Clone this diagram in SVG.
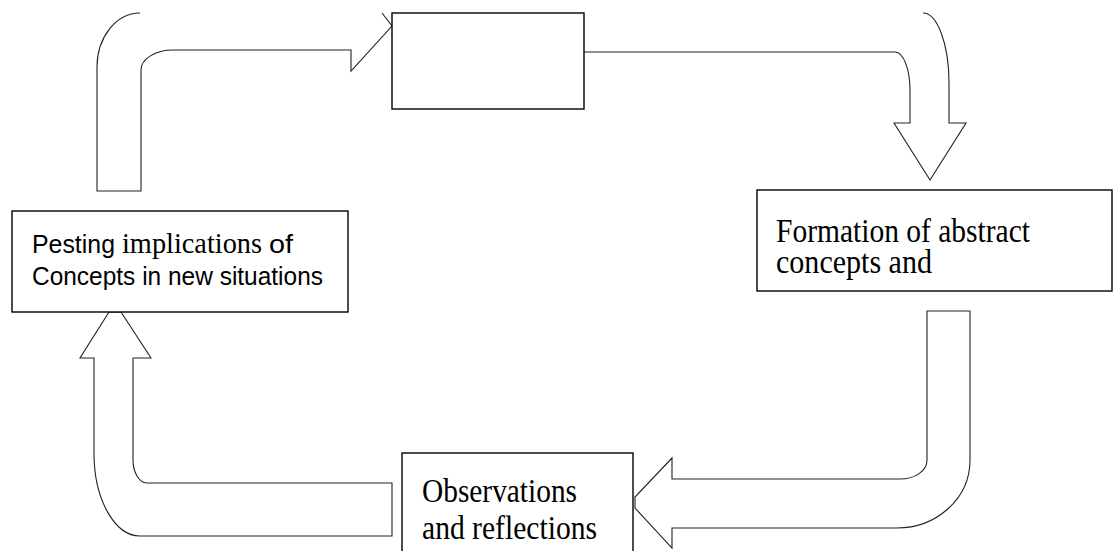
<svg xmlns="http://www.w3.org/2000/svg" width="1113" height="551" viewBox="0 0 1113 551">
<style>
.box{fill:#fff;stroke:#000;stroke-width:1.4}
.arrow{fill:#fff;stroke:#222;stroke-width:1.1;stroke-linejoin:miter}
.open{fill:none;stroke:#222;stroke-width:1.1}
.serif{font-family:"Liberation Serif","Times New Roman",serif;fill:#000}
.sans{font-family:"Liberation Sans",Arial,sans-serif;fill:#000}
</style>
<rect width="1113" height="551" fill="#fff"/>
<g id="connectors">
  <path id="arrow-top-left" class="open" d="M140,13 A43,54 0 0 0 97,67 L97,191 L141,191 L141,70 A32,20 0 0 1 173,50 L351,50 L351,71 L392,26 L382,13"/>
  <path id="arrow-top-right" class="open" d="M584,52 L895,52 A15,38 0 0 1 910,90 L910,123 L894,123 L930,180 L966,123 L949,123 L949,83 A26,70 0 0 0 923,13"/>
  <path id="arrow-bottom-right" class="arrow" d="M927,311 L970,311 L970,460 C970,500 935,528 897,528 L672,528 L672,548 L635,508 L635,497 L672,458 L672,479 L900,479 C915,479 927,471 927,460 Z"/>
  <path id="arrow-bottom-left" class="arrow" d="M392,483 L147,483 C139,483 133,472 133,460 L133,358 L151,358 L121,312 L109,312 L80,358 L94,358 L94,453 C94,500 115,536 140,536 L392,536 Z"/>
</g>
<g id="node-top">
  <rect class="box" x="392" y="13" width="192" height="96"/>
</g>
<g id="node-left">
  <rect class="box" x="12" y="211" width="336" height="101"/>
  <text class="sans" x="32" y="253" font-size="26" textLength="83" lengthAdjust="spacingAndGlyphs">Pesting</text>
  <text class="serif" x="122" y="253" font-size="29" textLength="140" lengthAdjust="spacingAndGlyphs">implications</text>
  <text class="sans" x="269" y="253" font-size="26" textLength="24" lengthAdjust="spacingAndGlyphs">of</text>
  <text class="sans" x="32" y="285" font-size="26" textLength="291" lengthAdjust="spacingAndGlyphs">Concepts in new situations</text>
</g>
<g id="node-right">
  <rect class="box" x="757" y="190" width="355" height="101"/>
  <text class="serif" x="776" y="242" font-size="34" textLength="254" lengthAdjust="spacingAndGlyphs">Formation of abstract</text>
  <text class="serif" x="776" y="273" font-size="34" textLength="156" lengthAdjust="spacingAndGlyphs">concepts and</text>
</g>
<g id="node-bottom">
  <rect class="box" x="402" y="453" width="231" height="110"/>
  <text class="serif" x="422" y="502" font-size="34" textLength="155" lengthAdjust="spacingAndGlyphs">Observations</text>
  <text class="serif" x="422" y="539" font-size="34" textLength="175" lengthAdjust="spacingAndGlyphs">and reflections</text>
</g>
</svg>
